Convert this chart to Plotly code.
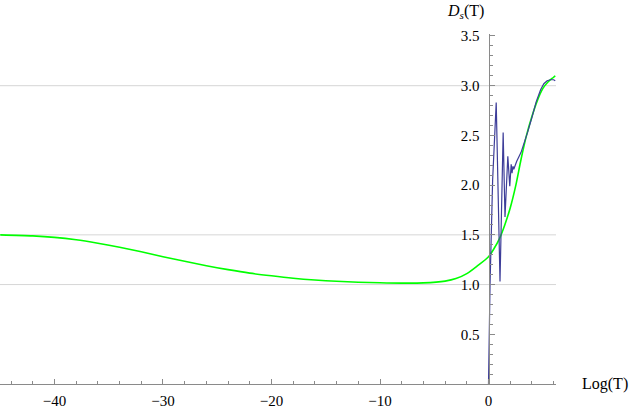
import plotly.graph_objects as go

# ---- data ----
green_x = [-45.0, -42, -40, -38, -36, -34, -32, -30, -28, -26, -24, -22, -20, -18, -16, -14, -12, -10,
           -8, -6, -4, -3, -2, -1, 0, 0.5, 1, 1.5, 2, 2.5, 3, 3.5, 4, 4.5, 5, 5.5, 6, 6.15]
green_y = [1.50, 1.49, 1.475, 1.45, 1.415, 1.375, 1.33, 1.28, 1.235, 1.19, 1.15, 1.115, 1.088, 1.064,
           1.046, 1.033, 1.024, 1.018, 1.015, 1.017, 1.035, 1.06, 1.11, 1.19, 1.28, 1.36, 1.46, 1.6,
           1.77, 1.99, 2.26, 2.5, 2.69, 2.85, 2.97, 3.04, 3.085, 3.1]

blue_x = [0, 0.08, 0.14, 0.38, 0.71, 1.06, 1.35, 1.52, 1.78, 1.96, 2.09, 2.17, 2.25, 2.33,
          2.6, 3.0, 3.3, 3.6, 4.0, 4.4, 4.8, 5.1, 5.4, 5.7, 6.0, 6.15]
blue_y = [0, 0.6, 1.0, 2.05, 2.83, 1.03, 2.53, 1.68, 2.29, 1.99, 2.21, 2.12, 2.19, 2.16,
          2.24, 2.33, 2.42, 2.53, 2.68, 2.84, 2.96, 3.02, 3.05, 3.06, 3.06, 3.05]

x_ticks = [-40, -30, -20, -10, 0]
x_ticktext = ["\u221240", "\u221230", "\u221220", "\u221210", "0"]
y_ticks = [0.5, 1.0, 1.5, 2.0, 2.5, 3.0, 3.5]
grid_y = [1.0, 1.5, 3.0]

x_range = [-45.02, 6.22]
y_range = [0, 3.52]

FONT = "Liberation Serif, Times New Roman, serif"
AXIS_COLOR = "#8a8a8a"

fig = go.Figure()
fig.add_trace(go.Scatter(x=green_x, y=green_y, mode="lines",
                         line=dict(color="#00ff00", width=1.6, shape="spline", smoothing=0.8),
                         hoverinfo="skip", showlegend=False))
fig.add_trace(go.Scatter(x=blue_x, y=blue_y, mode="lines",
                         line=dict(color="#3d3d99", width=1.2),
                         hoverinfo="skip", showlegend=False))

for gy in grid_y:
    fig.add_shape(type="line", xref="paper", yref="y", x0=0, x1=1, y0=gy, y1=gy,
                  line=dict(color="#d6d6d6", width=1), layer="below")

ypos = (0 - x_range[0]) / (x_range[1] - x_range[0])

fig.update_layout(
    width=636, height=413,
    margin=dict(l=0, r=80, t=34, b=29),
    paper_bgcolor="white", plot_bgcolor="white",
    font=dict(family=FONT, size=15, color="black"),
    xaxis=dict(range=x_range, showgrid=False, zeroline=False,
               showline=True, linecolor=AXIS_COLOR, linewidth=1,
               tickmode="array", tickvals=x_ticks, ticktext=x_ticktext,
               ticks="inside", ticklen=5, tickcolor=AXIS_COLOR, tickwidth=1,
               minor=dict(tick0=0, dtick=2, ticks="inside", ticklen=3, tickcolor=AXIS_COLOR, showgrid=False),
               ticklabelstandoff=3, fixedrange=True),
    yaxis=dict(range=y_range, showgrid=False, zeroline=False,
               anchor="free", position=ypos,
               showline=True, linecolor=AXIS_COLOR, linewidth=1,
               tickmode="array", tickvals=y_ticks, tickformat=".1f",
               ticks="inside", ticklen=5, tickcolor=AXIS_COLOR, tickwidth=1,
               minor=dict(tick0=0, dtick=0.1, ticks="inside", ticklen=3, tickcolor=AXIS_COLOR, showgrid=False),
               ticklabelstandoff=6, fixedrange=True),
    annotations=[
        dict(text="<i>D</i><sub><i>s</i></sub>(T)", xref="paper", yref="paper",
             x=465 / 556, y=(350 + 22) / 350, xanchor="center", yanchor="middle",
             showarrow=False, font=dict(family=FONT, size=16, color="black")),
        dict(text="Log(T)", xref="paper", yref="paper",
             x=605 / 556, y=0.0, xanchor="center", yanchor="middle",
             showarrow=False, font=dict(family=FONT, size=16, color="black")),
    ],
)

fig.write_html("out.html", config={"displayModeBar": False},
               post_script="document.body.style.margin='0';")
